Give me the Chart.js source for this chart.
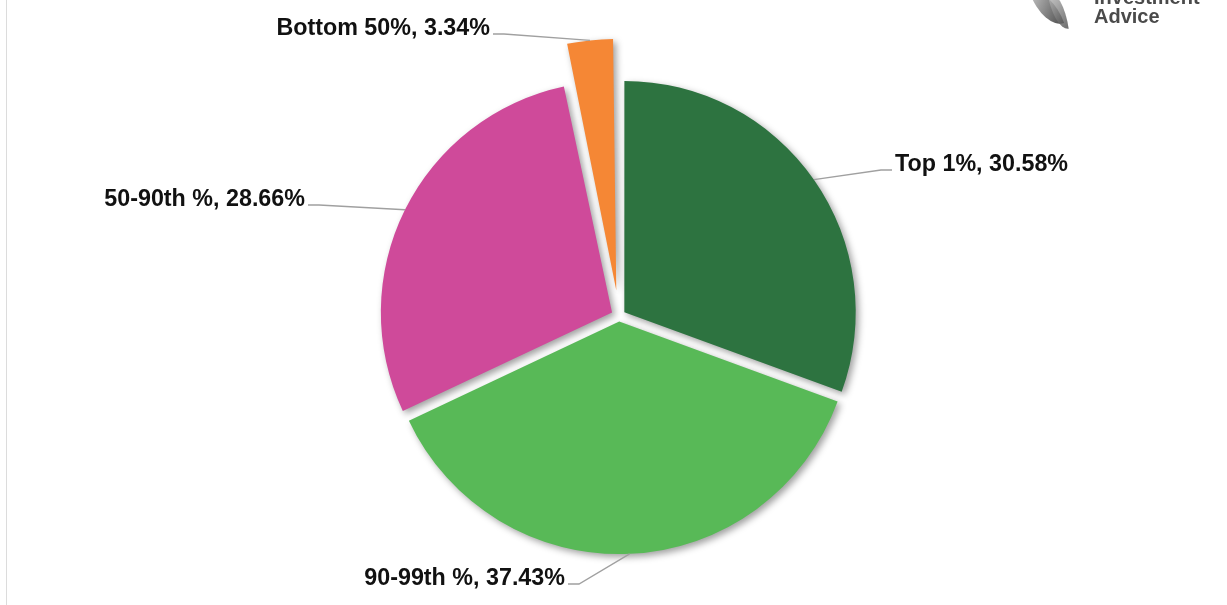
<!DOCTYPE html>
<html lang="en">
<head>
  <meta charset="UTF-8" />
  <title>Wealth share</title>
  <script src="https://cdn.jsdelivr.net/npm/chart.js"></script>
  <style>
    html, body {
      margin: 0;
      padding: 0;
      background: #fff;
      overflow: hidden;
    }
    .frame {
      position: relative;
      width: 1227px;
      height: 605px;
    }
    .frame::before {
      content: "";
      position: absolute;
      left: 6px;
      top: 0;
      bottom: 0;
      width: 1px;
      background: #dcdcdc;
    }
    .logo {
      position: absolute;
      top: -12px;
      left: 1094px;
      font-family: "Liberation Sans", Arial, sans-serif;
      font-weight: bold;
      font-size: 20px;
      line-height: 19px;
      color: #4a4a4a;
    }
    .leaf {
      position: absolute;
      width: 22px;
      height: 40px;
      border-radius: 0 100% 0 100%;
      background: linear-gradient(135deg, #c4c4c4, #4a4a4a);
    }
    canvas {
      position: absolute;
      left: 0;
      top: 0;
    }
  </style>
</head>
<body>
  <div class="frame">
    <canvas id="pie"></canvas>
    <div class="leaf" style="left:1036px; top:-12px; transform:rotate(-20deg);"></div>
    <div class="leaf" style="left:1050px; top:-10px; width:16px; transform:rotate(-8deg); opacity:0.8;"></div>
    <div class="logo">Investment<br>Advice</div>
  </div>
  <script>
    // data
    const labels = ['Top 1%', '90-99th %', '50-90th %', 'Bottom 50%'];
    const shares = [30.58, 37.43, 28.66, 3.34];
    const colors = ['#2d7340', '#58b957', '#cf4a9a', '#f58735'];
    const offsets = [26, 22, 31, 103];

    // where each label's text sits: [x, baseline, align]
    const labelPos = [
      [895, 171, 'left'],
      [565, 585, 'right'],
      [305, 206, 'right'],
      [490, 35, 'right']
    ];

    // same shift Chart.js applies to an offset arc
    function arcShift(arc) {
      const off = (arc.options.offset || 0) / 4;
      const circ = arc.endAngle - arc.startAngle;
      const fix = 1 - Math.sin(Math.min(Math.PI, circ));
      return off + off * fix;
    }

    const shadowPlugin = {
      id: 'shadow',
      beforeDatasetsDraw(chart) {
        const ctx = chart.ctx;
        ctx.save();
        ctx.shadowColor = 'rgba(0, 0, 0, 0.38)';
        ctx.shadowBlur = 7;
        ctx.shadowOffsetX = 3;
        ctx.shadowOffsetY = 3;
      },
      afterDatasetsDraw(chart) {
        chart.ctx.restore();
      }
    };

    const labelPlugin = {
      id: 'sliceLabels',
      afterDatasetsDraw(chart) {
        const ctx = chart.ctx;
        const arcs = chart.getDatasetMeta(0).data;
        ctx.save();
        ctx.font = 'bold 23.3px "Liberation Sans", Arial, sans-serif';
        ctx.textBaseline = 'alphabetic';
        arcs.forEach((arc, i) => {
          const [tx, ty, align] = labelPos[i];
          const mid = (arc.startAngle + arc.endAngle) / 2;
          const r = arc.outerRadius + arcShift(arc);
          const px = arc.x + Math.cos(mid) * r;
          const py = arc.y + Math.sin(mid) * r;
          const dir = align === 'left' ? -1 : 1;
          ctx.strokeStyle = '#a0a0a0';
          ctx.lineWidth = 1.3;
          ctx.beginPath();
          ctx.moveTo(tx + dir * 3, ty - 1);
          ctx.lineTo(tx + dir * 14, ty - 1);
          ctx.lineTo(px, py);
          ctx.stroke();
          ctx.fillStyle = '#111';
          ctx.textAlign = align;
          ctx.fillText(labels[i] + ', ' + shares[i].toFixed(2) + '%', tx, ty);
        });
        ctx.restore();
      }
    };

    const canvas = document.getElementById('pie');
    canvas.width = 1227;
    canvas.height = 605;

    new Chart(canvas, {
      type: 'pie',
      data: {
        labels: labels,
        datasets: [{
          data: shares,
          backgroundColor: colors,
          borderWidth: 0,
          offset: offsets,
          radius: 231
        }]
      },
      options: {
        responsive: false,
        animation: false,
        layout: {
          padding: { left: 11, top: 27, right: 0, bottom: 0 }
        },
        plugins: {
          legend: { display: false },
          tooltip: { enabled: false }
        }
      },
      plugins: [shadowPlugin, labelPlugin]
    });
  </script>
</body>
</html>
